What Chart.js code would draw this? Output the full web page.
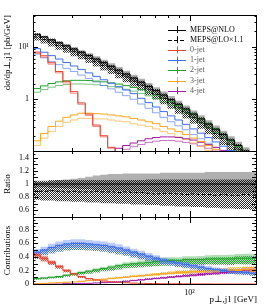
<!DOCTYPE html>
<html lang="en">
<head>
    <meta charset="UTF-8"/>
    <title>leading jet pT</title>
    <script src="https://cdn.jsdelivr.net/npm/chart.js@4.4.1/dist/chart.umd.min.js"></script>
    <style>
        html, body { margin: 0; padding: 0; background: #fff; }
        #wrap { position: relative; width: 266px; height: 307px; overflow: hidden; }
        #wrap canvas { position: absolute; left: 0; }
    </style>
</head>
<body>
<div id="wrap">
    <canvas id="mainChart" width="266" height="160" style="top:0px"></canvas>
    <canvas id="ratioChart" width="266" height="90" style="top:141px"></canvas>
    <canvas id="contribChart" width="266" height="100" style="top:207px"></canvas>
</div>

<script>
    // bins in pT (GeV)
    const binEdges = [20, 21.6, 23.32, 25.18, 27.19, 29.36, 31.7, 34.23, 36.96, 39.91, 43.09, 46.53, 50.24, 54.25, 58.58, 63.25,
        68.3, 73.75, 79.63, 85.98, 92.83, 100.24, 108.24, 116.87, 126.19, 136.26, 147.13, 158.87, 171.54, 185.22, 200];

    // MEPS@NLO total (pb/GeV)
    const mepsNlo = [17.5, 15.6, 13.7, 12.0, 10.5, 9.15, 7.94, 6.84, 5.87, 5.01, 4.27, 3.6, 3.03, 2.54, 2.12, 1.76, 1.46, 1.2,
        0.98, 0.8, 0.65, 0.52, 0.42, 0.335, 0.267, 0.212, 0.166, 0.13, 0.102, 0.079];

    // ratio panel (relative to MEPS@NLO)
    const ratioLo = [0.89, 0.89, 0.9, 0.89, 0.88, 0.89, 0.88, 0.88, 0.89, 0.88, 0.88, 0.87, 0.88, 0.87, 0.87, 0.86, 0.85, 0.86,
        0.86, 0.85, 0.84, 0.85, 0.84, 0.84, 0.83, 0.84, 0.83, 0.83, 0.84, 0.83];
    const nloBandUp = [1.03, 1.03, 1.04, 1.06, 1.07, 1.08, 1.09, 1.11, 1.13, 1.14, 1.15, 1.15, 1.16, 1.16, 1.16, 1.16, 1.16, 1.17,
        1.17, 1.17, 1.17, 1.17, 1.17, 1.18, 1.18, 1.18, 1.18, 1.18, 1.18, 1.18];
    const nloBandDn = [0.95, 0.95, 0.94, 0.94, 0.93, 0.93, 0.92, 0.92, 0.91, 0.91, 0.9, 0.9, 0.9, 0.89, 0.89, 0.89, 0.88, 0.88,
        0.88, 0.88, 0.87, 0.87, 0.87, 0.87, 0.87, 0.86, 0.86, 0.86, 0.86, 0.86];
    const loBandUp = [1.05, 1.05, 1.06, 1.06, 1.06, 1.06, 1.06, 1.06, 1.06, 1.06, 1.06, 1.06, 1.06, 1.06, 1.06, 1.07, 1.07, 1.07,
        1.07, 1.07, 1.07, 1.07, 1.07, 1.07, 1.07, 1.07, 1.07, 1.07, 1.07, 1.07];
    const loBandDn = [0.76, 0.75, 0.75, 0.74, 0.74, 0.73, 0.73, 0.72, 0.72, 0.71, 0.71, 0.7, 0.7, 0.69, 0.69, 0.68, 0.68, 0.67,
        0.67, 0.66, 0.66, 0.65, 0.65, 0.64, 0.64, 0.63, 0.63, 0.62, 0.62, 0.61];

    // n-jet curves in the main panel
    const jet0Nlo = [8.0, 6.8, 5.0, 3.4, 2.2, 1.4, 0.85, 0.52, 0.32, 0.2, 0.12, 0.075, 0.045, 0.028];
    const jet0Lo = [7.6, 6.4, 4.7, 3.2, 2.05, 1.3, 0.8, 0.49, 0.3, 0.19, 0.115, 0.07, 0.043, 0.026];
    const jet1Nlo = [9.3, 7.95, 6.83, 5.88, 5.04, 4.33, 3.72, 3.19, 2.74, 2.36, 2.02, 1.74, 1.5, 1.28, 1.04, 0.86, 0.71, 0.58,
        0.48, 0.4, 0.33, 0.27, 0.224, 0.184, 0.152, 0.126, 0.104, 0.085, 0.07, 0.057];
    const jet1Lo = [7.3, 6.2, 5.3, 4.6, 3.9, 3.4, 2.9, 2.5, 2.14, 1.84, 1.58, 1.36, 1.17, 1.0, 0.81, 0.67, 0.55, 0.45, 0.37, 0.31,
        0.26, 0.21, 0.175, 0.144, 0.119, 0.098, 0.081, 0.066, 0.055, 0.044];
    const jet2Nlo = [1.6, 1.8, 2.0, 2.15, 2.25, 2.3, 2.3, 2.28, 2.22, 2.15, 2.05, 1.95, 1.82, 1.68, 1.52, 1.36, 1.2, 1.04, 0.9,
        0.76, 0.63, 0.52, 0.42, 0.34, 0.27, 0.21, 0.16, 0.125, 0.095, 0.07];
    const jet2Lo = [1.36, 1.53, 1.7, 1.83, 1.91, 1.96, 1.96, 1.94, 1.89, 1.83, 1.74, 1.66, 1.55, 1.43, 1.29, 1.16, 1.02, 0.88,
        0.77, 0.65, 0.54, 0.44, 0.36, 0.29, 0.23, 0.18, 0.136, 0.106, 0.081, 0.06];
    const jet3Nlo = [0.16, 0.22, 0.3, 0.38, 0.45, 0.5, 0.54, 0.54, 0.53, 0.52, 0.5, 0.48, 0.46, 0.43, 0.4, 0.37, 0.34, 0.3, 0.27,
        0.24, 0.21, 0.18, 0.155, 0.13, 0.11, 0.09, 0.075, 0.062, 0.05, 0.04];
    const jet3Lo = [0.13, 0.18, 0.24, 0.3, 0.36, 0.4, 0.43, 0.43, 0.42, 0.42, 0.4, 0.38, 0.37, 0.34, 0.32, 0.3, 0.27, 0.24, 0.22,
        0.19, 0.17, 0.145, 0.124, 0.104, 0.088, 0.072, 0.06, 0.05, 0.04, 0.032];
    const jet4Nlo = [0.01, 0.015, 0.02, 0.03, 0.04, 0.05, 0.06, 0.07, 0.08, 0.09, 0.1, 0.115, 0.13, 0.145, 0.16, 0.175, 0.185,
        0.19, 0.19, 0.185, 0.175, 0.165, 0.15, 0.135, 0.12, 0.105, 0.092, 0.08, 0.07, 0.06];
    const jet4Lo = [0.009, 0.013, 0.017, 0.026, 0.034, 0.043, 0.051, 0.06, 0.068, 0.077, 0.085, 0.097, 0.11, 0.123, 0.136, 0.149,
        0.157, 0.162, 0.162, 0.157, 0.149, 0.14, 0.128, 0.115, 0.102, 0.089, 0.078, 0.068, 0.06, 0.051];

    // contributions panel (fractions)
    const frac0 = [0.43, 0.38, 0.32, 0.26, 0.2, 0.15, 0.11, 0.08, 0.06, 0.045, 0.033, 0.025, 0.018, 0.013, 0.01, 0.007, 0.005,
        0.004, 0.003, 0.002, 0.002, 0.001, 0.001, 0.001, 0, 0, 0, 0, 0, 0];
    const frac1 = [0.47, 0.5, 0.54, 0.57, 0.59, 0.6, 0.6, 0.59, 0.58, 0.57, 0.55, 0.53, 0.5, 0.47, 0.44, 0.41, 0.38, 0.35, 0.33,
        0.31, 0.29, 0.27, 0.25, 0.23, 0.21, 0.2, 0.19, 0.18, 0.17, 0.16];
    const frac2 = [0.08, 0.09, 0.1, 0.11, 0.13, 0.15, 0.17, 0.19, 0.21, 0.23, 0.25, 0.27, 0.29, 0.3, 0.31, 0.32, 0.33, 0.34, 0.35,
        0.35, 0.36, 0.36, 0.36, 0.37, 0.37, 0.37, 0.37, 0.38, 0.38, 0.38];
    const frac3 = [0.005, 0.01, 0.015, 0.02, 0.025, 0.03, 0.04, 0.05, 0.06, 0.07, 0.08, 0.09, 0.1, 0.11, 0.12, 0.13, 0.14, 0.15,
        0.16, 0.17, 0.17, 0.18, 0.18, 0.19, 0.19, 0.2, 0.2, 0.2, 0.21, 0.21];
    const frac4 = [0, 0, 0, 0, 0.005, 0.005, 0.01, 0.01, 0.015, 0.02, 0.025, 0.03, 0.04, 0.05, 0.06, 0.07, 0.08, 0.09, 0.1, 0.11,
        0.12, 0.13, 0.14, 0.15, 0.16, 0.17, 0.18, 0.19, 0.2, 0.21];
    const fracLo0 = [0.41, 0.37, 0.31, 0.25, 0.19, 0.14, 0.1, 0.075, 0.055, 0.04, 0.03, 0.022, 0.016, 0.012, 0.009, 0.006, 0.005,
        0.003, 0.002, 0.002, 0.001, 0.001, 0.001, 0, 0, 0, 0, 0, 0, 0];
    const fracLo1 = [0.44, 0.47, 0.5, 0.53, 0.55, 0.56, 0.56, 0.55, 0.54, 0.53, 0.51, 0.49, 0.47, 0.44, 0.41, 0.38, 0.36, 0.33,
        0.31, 0.29, 0.27, 0.25, 0.23, 0.21, 0.2, 0.19, 0.18, 0.17, 0.16, 0.15];
    const fracLo2 = [0.07, 0.08, 0.09, 0.1, 0.12, 0.14, 0.15, 0.17, 0.19, 0.21, 0.22, 0.24, 0.26, 0.27, 0.28, 0.29, 0.3, 0.31,
        0.32, 0.32, 0.33, 0.33, 0.33, 0.34, 0.34, 0.34, 0.34, 0.35, 0.35, 0.35];
    const fracLo3 = [0.005, 0.01, 0.015, 0.02, 0.03, 0.035, 0.045, 0.055, 0.065, 0.075, 0.085, 0.095, 0.105, 0.115, 0.125, 0.135,
        0.145, 0.155, 0.165, 0.175, 0.18, 0.185, 0.19, 0.195, 0.2, 0.2, 0.21, 0.21, 0.22, 0.22];
    const fracLo4 = [0, 0, 0, 0, 0.005, 0.01, 0.01, 0.015, 0.02, 0.025, 0.03, 0.035, 0.045, 0.055, 0.065, 0.075, 0.085, 0.095,
        0.105, 0.115, 0.125, 0.135, 0.145, 0.155, 0.165, 0.175, 0.185, 0.195, 0.205, 0.215];
    // relative half width of the contribution bands
    const fracUnc = [0.1, 0.1, 0.1, 0.1, 0.1, 0.1, 0.1, 0.1, 0.1, 0.1, 0.11, 0.11, 0.11, 0.11, 0.12, 0.12, 0.12, 0.13, 0.13,
        0.13, 0.14, 0.14, 0.15, 0.15, 0.16, 0.16, 0.17, 0.17, 0.18, 0.18];

    const jetLabels = ['0-jet', '1-jet', '2-jet', '3-jet', '4-jet'];
    const jetColors = ['#e8412e', '#3d6df2', '#21a02b', '#ffa41c', '#a21aa8'];
    const jetLight = ['rgba(232,65,46,0.6)', 'rgba(61,109,242,0.6)', 'rgba(33,160,43,0.6)', 'rgba(255,164,28,0.6)', 'rgba(162,26,168,0.6)'];
    const jetFill = ['rgba(232,65,46,0.35)', 'rgba(61,109,242,0.35)', 'rgba(33,160,43,0.35)', 'rgba(255,164,28,0.35)', 'rgba(162,26,168,0.35)'];
</script>

<script>
    const serif = "'Liberation Serif', 'DejaVu Serif', serif";
    Chart.defaults.font.family = serif;
    Chart.defaults.font.size = 8;
    Chart.defaults.color = '#000';
    Chart.defaults.animation = false;

    // histogram outline: one point per bin edge
    function steps(vals) {
        const pts = vals.map((v, i) => ({x: binEdges[i], y: v}));
        pts.push({x: binEdges[vals.length], y: vals[vals.length - 1]});
        return pts;
    }

    function times(a, b) {
        return a.map((v, i) => v * b[i]);
    }

    function checker(color) {
        const c = document.createElement('canvas');
        c.width = 2;
        c.height = 2;
        const g = c.getContext('2d');
        g.fillStyle = color;
        g.fillRect(0, 0, 1, 1);
        g.fillRect(1, 1, 1, 1);
        return g.createPattern(c, 'repeat');
    }

    function line(vals, color, order, dash) {
        return {
            data: steps(vals), stepped: true, borderColor: color, borderWidth: 1, borderDash: dash || [],
            pointRadius: 0, fill: false, order: order
        };
    }

    function band(up, dn, fillColor, order) {
        return [
            {data: steps(up), stepped: true, borderWidth: 0, pointRadius: 0, fill: '+1', backgroundColor: fillColor, order: order},
            {data: steps(dn), stepped: true, borderWidth: 0, pointRadius: 0, fill: false, order: order}
        ];
    }

    // frame with inner tick marks, rivet style
    const rivetFrame = {
        id: 'rivetFrame',
        afterDatasetsDraw(chart, args, o) {
            const {ctx, chartArea: a} = chart;
            const xs = chart.scales.x, ys = chart.scales.y;
            ctx.save();
            ctx.strokeStyle = '#000';
            ctx.lineWidth = 1;
            ctx.beginPath();
            const tick = (vals, len, onX) => {
                vals.forEach(v => {
                    if (onX) {
                        const p = Math.round(xs.getPixelForValue(v)) + 0.5;
                        if (p < a.left || p > a.right) return;
                        ctx.moveTo(p, a.bottom);
                        ctx.lineTo(p, a.bottom - len);
                        ctx.moveTo(p, a.top);
                        ctx.lineTo(p, a.top + len);
                    } else {
                        const p = Math.round(ys.getPixelForValue(v)) + 0.5;
                        if (p < a.top || p > a.bottom) return;
                        ctx.moveTo(a.left, p);
                        ctx.lineTo(a.left + len, p);
                        ctx.moveTo(a.right, p);
                        ctx.lineTo(a.right - len, p);
                    }
                });
            };
            tick(o.xMajor, 6, true);
            tick(o.xMinor, 3, true);
            tick(o.yMajor, 5, false);
            tick(o.yMinor, 2.5, false);
            ctx.stroke();
            ctx.strokeRect(a.left + 0.5, a.top + 0.5, a.right - a.left - 1, a.bottom - a.top);
            ctx.restore();
        }
    };

    // legend drawn inside the main frame
    const insideLegend = {
        id: 'insideLegend',
        afterDraw(chart) {
            const ctx = chart.ctx;
            const items = [['MEPS@NLO', '#000', []], ['MEPS@LO×1.1', '#000', [4, 2]]];
            jetLabels.forEach((l, i) => items.push([l, jetColors[i], []]));
            ctx.save();
            ctx.font = '8px ' + serif;
            ctx.textBaseline = 'middle';
            items.forEach((it, i) => {
                const y = 29.5 + i * 10.2;
                ctx.strokeStyle = it[1];
                ctx.lineWidth = 1;
                ctx.setLineDash(it[2]);
                ctx.beginPath();
                ctx.moveTo(168, Math.round(y) + 0.5);
                ctx.lineTo(186, Math.round(y) + 0.5);
                ctx.stroke();
                ctx.setLineDash([]);
                ctx.beginPath();
                ctx.moveTo(177.5, y - 3.5);
                ctx.lineTo(177.5, y + 3.5);
                ctx.stroke();
                ctx.fillStyle = i < 2 ? '#000' : '#555';
                ctx.fillText(it[0], 190, y);
            });
            ctx.restore();
        }
    };

    const xMinor = [30, 40, 50, 60, 70, 80, 90, 200];
    const grayFill = 'rgba(150,150,150,0.75)';
    const blackCheck = checker('rgba(0,0,0,0.85)');

    function yAxis(title, align) {
        return {
            afterFit: s => { s.width = 33; },
            grid: {display: false, drawTicks: false},
            border: {display: false},
            ticks: {padding: 4, font: {size: 8}},
            title: {display: true, text: title, align: align, font: {size: 9}, padding: {top: 2, bottom: 0}}
        };
    }

    // ---------- main panel ----------
    const mainSets = [];
    mainSets.push(line(mepsNlo, '#000', 1));
    mainSets.push(line(times(mepsNlo, ratioLo), '#000', 2, [4, 2]));
    const jetNlo = [jet0Nlo, jet1Nlo, jet2Nlo, jet3Nlo, jet4Nlo];
    const jetLo = [jet0Lo, jet1Lo, jet2Lo, jet3Lo, jet4Lo];
    jetNlo.forEach((v, i) => mainSets.push(line(v, jetColors[i], 3)));
    jetLo.forEach((v, i) => mainSets.push(line(v, jetLight[i], 4)));
    mainSets.push(...band(times(mepsNlo, loBandUp), times(mepsNlo, loBandDn), blackCheck, 8));
    mainSets.push(...band(times(mepsNlo, nloBandUp), times(mepsNlo, nloBandDn), grayFill, 9));

    const mainY = yAxis('dσ/dp⊥,j1 [pb/GeV]', 'end');
    Object.assign(mainY, {type: 'logarithmic', min: 0.102, max: 41});
    mainY.afterBuildTicks = s => { s.ticks = [{value: 1}, {value: 10}]; };
    mainY.ticks.callback = v => (v === 10 ? '10¹' : '1');

    new Chart(document.getElementById('mainChart'), {
        type: 'line',
        data: {datasets: mainSets},
        options: {
            responsive: false,
            layout: {padding: {top: 15, right: 9, bottom: 9, left: 0}},
            plugins: {
                legend: {display: false}, tooltip: {enabled: false},
                rivetFrame: {
                    xMajor: [100], xMinor: xMinor, yMajor: [1, 10],
                    yMinor: [0.2, 0.3, 0.4, 0.5, 0.6, 0.7, 0.8, 0.9, 2, 3, 4, 5, 6, 7, 8, 9, 20, 30, 40]
                }
            },
            scales: {
                x: {type: 'logarithmic', min: 20, max: 200, display: false},
                y: mainY
            }
        },
        plugins: [rivetFrame, insideLegend]
    });

    // ---------- ratio panel ----------
    const ratioSets = [];
    ratioSets.push(line(binEdges.slice(0, 30).map(() => 1), '#000', 1));
    ratioSets.push(line(ratioLo, '#000', 2, [4, 2]));
    ratioSets.push(...band(loBandUp, loBandDn, blackCheck, 8));
    ratioSets.push(...band(nloBandUp, nloBandDn, grayFill, 9));

    const ratioY = yAxis('Ratio', 'center');
    Object.assign(ratioY, {type: 'linear', min: 0.5, max: 1.5});
    ratioY.afterBuildTicks = s => {
        s.ticks = [0.6, 0.7, 0.8, 0.9, 1, 1.1, 1.2, 1.3, 1.4].map(v => ({value: v}));
    };
    ratioY.ticks.callback = v => (Math.abs(v - 1) < 1e-6 ? '1' : v.toFixed(1));

    new Chart(document.getElementById('ratioChart'), {
        type: 'line',
        data: {datasets: ratioSets},
        options: {
            responsive: false,
            layout: {padding: {top: 10, right: 9, bottom: 14, left: 0}},
            plugins: {
                legend: {display: false}, tooltip: {enabled: false},
                rivetFrame: {
                    xMajor: [100], xMinor: xMinor,
                    yMajor: [0.6, 0.7, 0.8, 0.9, 1, 1.1, 1.2, 1.3, 1.4],
                    yMinor: [0.55, 0.65, 0.75, 0.85, 0.95, 1.05, 1.15, 1.25, 1.35, 1.45]
                }
            },
            scales: {
                x: {type: 'logarithmic', min: 20, max: 200, display: false},
                y: ratioY
            }
        },
        plugins: [rivetFrame]
    });

    // ---------- contributions panel ----------
    const fracs = [frac0, frac1, frac2, frac3, frac4];
    const fracsLo = [fracLo0, fracLo1, fracLo2, fracLo3, fracLo4];
    const contribSets = [];
    fracs.forEach((f, i) => contribSets.push(line(f, jetColors[i], 1)));
    fracs.forEach((f, i) => {
        contribSets.push(...band(f.map((v, k) => v * (1 + fracUnc[k])), f.map((v, k) => v * (1 - fracUnc[k])), jetFill[i], 9));
    });
    fracsLo.forEach((f, i) => {
        contribSets.push(...band(f.map((v, k) => v * (1 + fracUnc[k])), f.map((v, k) => v * (1 - fracUnc[k])), checker(jetColors[i]), 8));
    });

    const contribY = yAxis('Contributions', 'center');
    Object.assign(contribY, {type: 'linear', min: 0, max: 0.99});
    contribY.afterBuildTicks = s => {
        s.ticks = [0, 0.1, 0.2, 0.3, 0.4, 0.5, 0.6, 0.7, 0.8, 0.9].map(v => ({value: v}));
    };
    contribY.ticks.callback = v => (v === 0 ? '0' : v.toFixed(1));

    new Chart(document.getElementById('contribChart'), {
        type: 'line',
        data: {datasets: contribSets},
        options: {
            responsive: false,
            layout: {padding: {top: 10, right: 9, bottom: 0, left: 0}},
            plugins: {
                legend: {display: false}, tooltip: {enabled: false},
                rivetFrame: {
                    xMajor: [100], xMinor: xMinor,
                    yMajor: [0, 0.1, 0.2, 0.3, 0.4, 0.5, 0.6, 0.7, 0.8, 0.9],
                    yMinor: [0.05, 0.15, 0.25, 0.35, 0.45, 0.55, 0.65, 0.75, 0.85, 0.95]
                }
            },
            scales: {
                x: {
                    type: 'logarithmic', min: 20, max: 200,
                    afterFit: s => { s.height = 23; },
                    afterBuildTicks: s => { s.ticks = [{value: 100}]; },
                    grid: {display: false, drawTicks: false},
                    border: {display: false},
                    ticks: {padding: 4, callback: () => '10²', font: {size: 8}},
                    title: {display: true, text: 'p⊥,j1 [GeV]', align: 'end', font: {size: 9}, padding: {top: 0, bottom: 2}}
                },
                y: contribY
            }
        },
        plugins: [rivetFrame]
    });
</script>
</body>
</html>
